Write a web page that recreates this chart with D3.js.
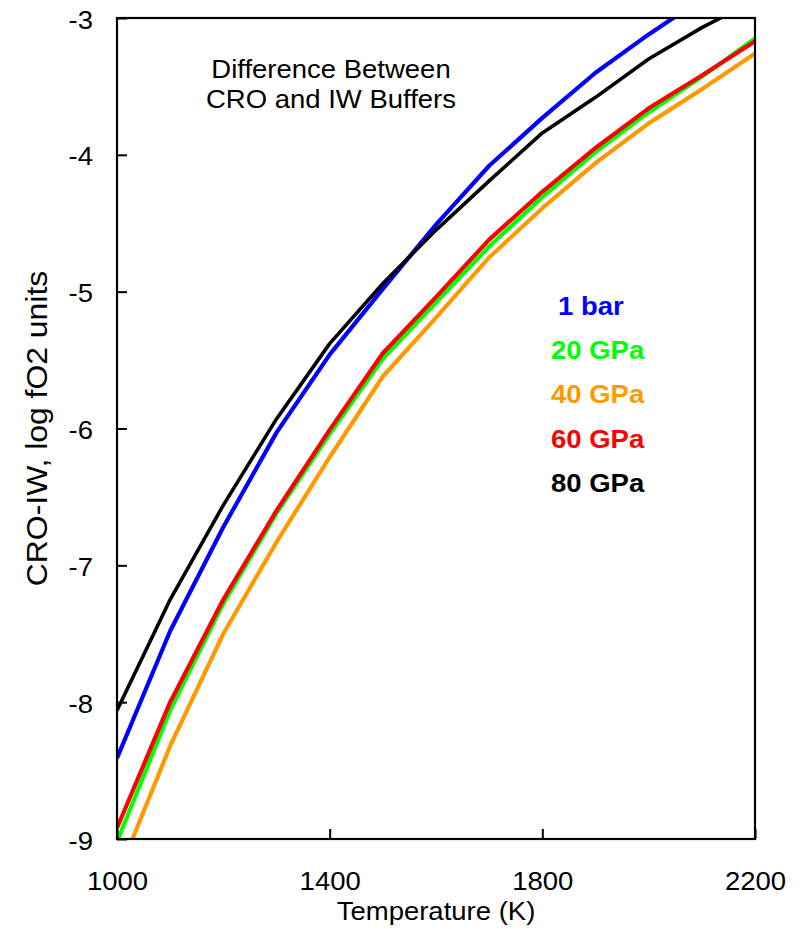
<!DOCTYPE html>
<html>
<head>
<meta charset="utf-8">
<script src="https://cdn.jsdelivr.net/npm/d3@7"></script>
<style>
  html, body { margin: 0; padding: 0; background: #fff; }
  svg { display: block; }
  text { font-family: "Liberation Sans", Arial, sans-serif; fill: #000; }
</style>
</head>
<body>
<svg id="chart" width="804" height="929"></svg>
<script>
// Temperature grid (K)
const temps = [1000, 1100, 1200, 1300, 1400, 1500, 1600, 1700, 1800, 1900, 2000, 2100, 2200];

// CRO - IW difference, log fO2 units, one series per pressure
const bar1  = [-8.41, -7.48, -6.72, -6.03, -5.46, -4.98, -4.51, -4.08, -3.73, -3.40, -3.12, -2.86, -2.60];
const gpa20 = [-9.02, -8.06, -7.28, -6.62, -6.04, -5.49, -5.08, -4.67, -4.31, -3.98, -3.69, -3.43, -3.15];
const gpa40 = [-9.28, -8.32, -7.50, -6.83, -6.21, -5.62, -5.19, -4.75, -4.39, -4.06, -3.77, -3.52, -3.26];
const gpa60 = [-8.92, -8.00, -7.25, -6.60, -6.01, -5.45, -5.04, -4.62, -4.27, -3.95, -3.66, -3.42, -3.17];
const gpa80 = [-8.06, -7.25, -6.56, -5.93, -5.38, -4.94, -4.55, -4.19, -3.84, -3.58, -3.30, -3.07, -2.87];

const seriesNames  = ["1 bar", "20 GPa", "40 GPa", "60 GPa", "80 GPa"];
const seriesColors = ["#0000ff", "#00ff00", "#ff9900", "#ff0000", "#000000"];
const seriesValues = [bar1, gpa20, gpa40, gpa60, gpa80];

const xTicks = [1000, 1400, 1800, 2200];
const yTicks = [-3, -4, -5, -6, -7, -8, -9];

const titleLines = ["Difference Between", "CRO and IW Buffers"];

// Layout
const plotL = 117, plotR = 755, plotT = 18, plotB = 839;
const FS = 25;          // base font size
const SX = 1.1;         // horizontal stretch of glyphs

const svg = d3.select("#chart");

const x = d3.scaleLinear().domain([1000, 2200]).range([plotL, plotR]);
const y = d3.scaleLinear().domain([-9, -3]).range([plotB, plotT]);

// Clip curves to the plotting area
svg.append("clipPath").attr("id", "plotClip")
  .append("rect").attr("x", plotL).attr("y", plotT)
  .attr("width", plotR - plotL).attr("height", plotB - plotT);

const line = d3.line()
  .x(d => x(d[0]))
  .y(d => y(d[1]));

const curves = svg.append("g").attr("clip-path", "url(#plotClip)");
seriesValues.forEach((vals, i) => {
  curves.append("path")
    .datum(temps.map((t, j) => [t, vals[j]]))
    .attr("d", line)
    .attr("fill", "none")
    .attr("stroke", seriesColors[i])
    .attr("stroke-width", i === 4 ? 3.6 : 4.2)
    .attr("stroke-linejoin", "round");
});

// Frame
svg.append("rect")
  .attr("x", plotL).attr("y", plotT)
  .attr("width", plotR - plotL).attr("height", plotB - plotT)
  .attr("fill", "none").attr("stroke", "#000").attr("stroke-width", 2.2);

// Axes with inward ticks
const yAxis = svg.append("g")
  .attr("transform", `translate(${plotL},0)`)
  .call(d3.axisLeft(y).tickValues(yTicks).tickSizeInner(-10).tickSizeOuter(0)
    .tickPadding(24).tickFormat(d => String(d)));
yAxis.select(".domain").remove();
yAxis.selectAll("line").attr("stroke", "#000").attr("stroke-width", 2);
yAxis.selectAll("text")
  .attr("font-size", FS)
  .attr("font-family", "Liberation Sans, Arial, sans-serif")
  .attr("x", -24 / SX)
  .attr("dy", null)
  .attr("y", 10)
  .attr("transform", `scale(${SX},1)`);

const xAxis = svg.append("g")
  .attr("transform", `translate(0,${plotB})`)
  .call(d3.axisBottom(x).tickValues(xTicks).tickSizeInner(-10).tickSizeOuter(0)
    .tickFormat(d => String(d)));
xAxis.select(".domain").remove();
xAxis.selectAll("line").attr("stroke", "#000").attr("stroke-width", 2);
xAxis.selectAll("text")
  .attr("font-size", FS)
  .attr("font-family", "Liberation Sans, Arial, sans-serif")
  .attr("dy", null)
  .attr("y", 51)
  .attr("transform", `scale(${SX},1)`);

// Helper for stretched text (stretch runs along the reading direction)
function label(px, py, str, opts = {}) {
  const tr = opts.rotate
    ? `translate(${px},${py}) rotate(-90) scale(${SX},1)`
    : `translate(${px},${py}) scale(${SX},1)`;
  const t = svg.append("text")
    .attr("transform", tr)
    .attr("text-anchor", opts.anchor || "middle")
    .attr("font-size", opts.size || FS)
    .attr("font-weight", opts.weight || "normal")
    .text(str);
  if (opts.color) t.style("fill", opts.color);
  return t;
}

// Axis titles
label((plotL + plotR) / 2, 920, "Temperature (K)");
label(47, (plotT + plotB) / 2, "CRO-IW, log fO2 units", { rotate: true, size: 29 });

// Chart title
titleLines.forEach((s, i) => label(331, 78 + i * 30, s));

// Legend
const legendX = [558, 551, 551, 551, 551];
seriesNames.forEach((s, i) => {
  label(legendX[i], 315 + i * 44.2, s, { anchor: "start", weight: "bold", color: seriesColors[i] });
});
</script>
</body>
</html>
